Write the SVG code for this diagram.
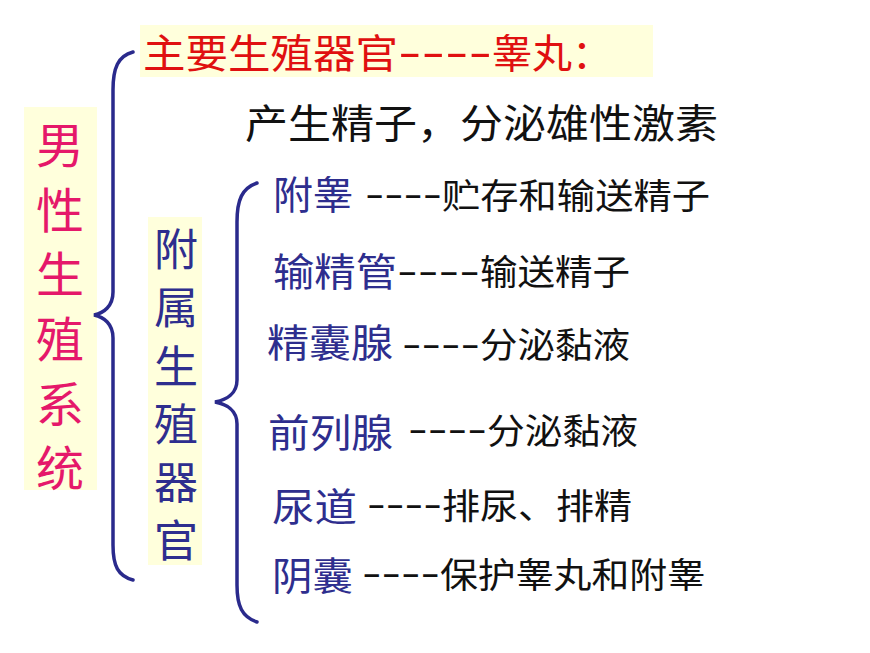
<svg xmlns="http://www.w3.org/2000/svg" width="870" height="653" viewBox="0 0 870 653">
<style>
text{font-family:"Noto Sans CJK SC","Liberation Sans",sans-serif;}
.bg{fill:#FFFFDC;}
.pink{fill:#E5186A;font-size:48px;}
.red{fill:#E01010;font-size:40px;}
.blk{fill:#111;font-size:40px;}
.blue{fill:#2E2E8E;font-size:39px;}
.vblue{fill:#2E2E8E;font-size:44px;}
.desc{fill:#111;font-size:35px;}
.dash{fill:#111;font-size:35px;font-family:"Liberation Sans",sans-serif;}
.brace{fill:none;stroke:#2A2A8C;stroke-width:3.5;stroke-linecap:round;}
</style>
<rect width="870" height="653" fill="#fff"/>
<g id="root">
<rect class="bg" x="24" y="107" width="73" height="383"/>
<text class="pink" x="60" text-anchor="middle"><tspan x="60" y="163">男</tspan><tspan x="60" y="228">性</tspan><tspan x="60" y="292">生</tspan><tspan x="60" y="357">殖</tspan><tspan x="60" y="422">系</tspan><tspan x="60" y="486">统</tspan></text>
</g>
<g id="main">
<rect class="bg" x="140" y="25" width="513" height="52"/>
<text class="red" x="143" y="68"><tspan textLength="255" lengthAdjust="spacingAndGlyphs">主要生殖器官</tspan></text>
<text class="red" x="398" y="66" textLength="94" lengthAdjust="spacingAndGlyphs" style="font-family:'Liberation Sans',sans-serif">----</text>
<text class="red" x="492" y="68">睾丸：</text>
<text class="blk" x="245" y="138" textLength="473" lengthAdjust="spacingAndGlyphs">产生精子，分泌雄性激素</text>
</g>
<g id="accessory">
<rect class="bg" x="148" y="217" width="54" height="348"/>
<text class="vblue"><tspan x="176" y="266" text-anchor="middle">附</tspan><tspan x="176" y="324" text-anchor="middle">属</tspan><tspan x="176" y="383" text-anchor="middle">生</tspan><tspan x="176" y="441" text-anchor="middle">殖</tspan><tspan x="176" y="499" text-anchor="middle">器</tspan><tspan x="176" y="557" text-anchor="middle">官</tspan></text>
</g>
<g id="connectors">
<path class="brace" d="M133,52 C118,56 113,68 113,90 L113,292 C113,306 104,313 94,315 C104,317 113,324 113,338 L113,545 C113,566 118,576 133,580"/>
<path class="brace" d="M257,183 C242,188 237,200 237,222 L237,380 C237,394 226,400 215,402 C226,404 237,410 237,424 L237,585 C237,606 242,617 257,622"/>
</g>
<g id="item-fugao">
<text class="blue" x="273" y="209" textLength="80" lengthAdjust="spacingAndGlyphs">附睾</text>
<text class="dash" x="365" y="206" textLength="77" lengthAdjust="spacingAndGlyphs">----</text>
<text class="desc" x="442" y="209" textLength="268" lengthAdjust="spacingAndGlyphs">贮存和输送精子</text>
</g>
<g id="item-shujingguan">
<text class="blue" x="273" y="286" textLength="124" lengthAdjust="spacingAndGlyphs">输精管</text>
<text class="dash" x="397" y="283" textLength="83" lengthAdjust="spacingAndGlyphs">----</text>
<text class="desc" x="480" y="285" textLength="150" lengthAdjust="spacingAndGlyphs">输送精子</text>
</g>
<g id="item-jingnangxian">
<text class="blue" x="267" y="357" textLength="126" lengthAdjust="spacingAndGlyphs">精囊腺</text>
<text class="dash" x="402" y="356" textLength="78" lengthAdjust="spacingAndGlyphs">----</text>
<text class="desc" x="480" y="358" textLength="150" lengthAdjust="spacingAndGlyphs">分泌黏液</text>
</g>
<g id="item-qianliexian">
<text class="blue" x="268" y="447" textLength="125" lengthAdjust="spacingAndGlyphs">前列腺</text>
<text class="dash" x="408" y="441" textLength="79" lengthAdjust="spacingAndGlyphs">----</text>
<text class="desc" x="487" y="444" textLength="151" lengthAdjust="spacingAndGlyphs">分泌黏液</text>
</g>
<g id="item-niaodao">
<text class="blue" x="272" y="521" textLength="85" lengthAdjust="spacingAndGlyphs">尿道</text>
<text class="dash" x="367" y="516" textLength="75" lengthAdjust="spacingAndGlyphs">----</text>
<text class="desc" x="442" y="519" textLength="190" lengthAdjust="spacingAndGlyphs">排尿、排精</text>
</g>
<g id="item-yinnang">
<text class="blue" x="272" y="590" textLength="81" lengthAdjust="spacingAndGlyphs">阴囊</text>
<text class="dash" x="362" y="585" textLength="78" lengthAdjust="spacingAndGlyphs">----</text>
<text class="desc" x="440" y="588" textLength="265" lengthAdjust="spacingAndGlyphs">保护睾丸和附睾</text>
</g>
</svg>
